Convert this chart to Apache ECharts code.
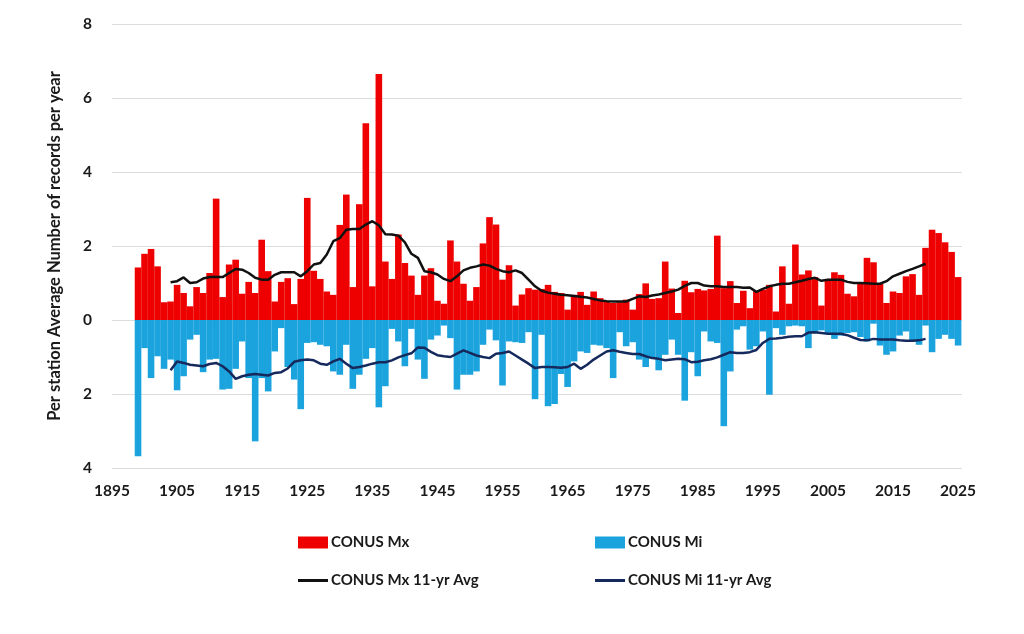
<!DOCTYPE html>
<html lang="en">
<head>
  <meta charset="UTF-8" />
  <title>CONUS records per year</title>
  <script src="https://cdn.jsdelivr.net/npm/echarts@6.0.0/dist/echarts.min.js"></script>
  <style>
    html, body { margin: 0; padding: 0; background: #ffffff; }
  </style>
</head>
<body>
  <div id="main" style="width: 1024px; height: 634px;"></div>
  <script type="text/javascript">
    // colours
    let mxColor = "#ee0000";
    let miColor = "#1ba3dd";
    let mxAvgColor = "#111111";
    let miAvgColor = "#15295c";
    let textColor = "#1a1a1a";
    let fontName = "Lato";

    // first year of the bars and of the 11-yr averages
    const firstYear = 1899;
    const avgFirstYear = 1904;

    // CONUS Mx, per station records per year, 1899 .. 2025
    const mx = [
      1.42,
      1.79, 1.92, 1.45, 0.48, 0.50, 0.95, 0.73, 0.37, 0.89, 0.73,
      1.27, 3.28, 0.62, 1.50, 1.63, 0.71, 1.03, 0.73, 2.17, 1.32,
      0.50, 1.03, 1.13, 0.43, 1.11, 3.30, 1.33, 1.11, 0.77, 0.68,
      2.57, 3.39, 0.89, 3.13, 5.32, 0.91, 6.65, 1.58, 1.11, 2.31,
      1.54, 1.20, 0.68, 1.20, 1.40, 0.52, 0.44, 2.15, 1.58, 0.98,
      0.52, 0.89, 2.07, 2.78, 2.58, 1.09, 1.48, 0.39, 0.69, 0.86,
      0.82, 0.84, 0.95, 0.76, 0.73, 0.28, 0.68, 0.76, 0.41, 0.77,
      0.59, 0.50, 0.46, 0.48, 0.55, 0.28, 0.70, 0.99, 0.57, 0.59,
      1.58, 0.85, 0.19, 1.06, 0.75, 0.84, 0.80, 0.84, 2.28, 0.86,
      1.05, 0.46, 0.79, 0.32, 0.78, 0.82, 0.95, 0.23, 1.45, 0.44,
      2.04, 1.23, 1.34, 1.16, 0.39, 1.11, 1.29, 1.22, 0.71, 0.64,
      1.02, 1.68, 1.56, 0.98, 0.46, 0.77, 0.73, 1.18, 1.24, 0.68,
      1.95, 2.44, 2.35, 2.10, 1.84, 1.16
    ];

    // CONUS Mi, per station records per year (drawn below zero), 1899 .. 2025
    const mi = [
      3.68,
      0.76, 1.57, 0.98, 1.32, 1.07, 1.90, 1.52, 0.53, 0.40, 1.41,
      1.07, 1.05, 1.88, 1.86, 1.32, 0.58, 1.57, 3.28, 1.57, 1.93,
      0.85, 0.22, 1.27, 1.61, 2.41, 0.62, 0.60, 0.67, 0.71, 1.39,
      1.48, 0.67, 1.86, 1.48, 1.05, 0.76, 2.36, 1.79, 0.24, 0.58,
      1.25, 0.24, 1.07, 1.59, 0.53, 0.42, 0.15, 0.49, 1.88, 1.48,
      1.48, 1.39, 0.67, 0.26, 0.55, 1.77, 0.58, 0.60, 0.62, 0.33,
      2.14, 0.40, 2.33, 2.27, 1.46, 1.81, 1.12, 0.85, 0.89, 0.67,
      0.69, 0.76, 1.57, 0.33, 0.71, 0.60, 1.07, 1.27, 1.03, 1.36,
      0.94, 0.53, 0.94, 2.18, 0.87, 1.52, 0.31, 0.58, 0.62, 2.87,
      1.39, 0.26, 0.17, 0.80, 0.71, 0.31, 2.02, 0.22, 0.40, 0.17,
      0.15, 0.17, 0.76, 0.35, 0.28, 0.35, 0.51, 0.42, 0.35, 0.33,
      0.46, 0.58, 0.10, 0.69, 0.94, 0.85, 0.42, 0.31, 0.58, 0.67,
      0.15, 0.87, 0.51, 0.40, 0.51, 0.69
    ];

    // 11-yr averages, 1904 .. 2020
    const mxAvg = [
      1.02, 1.05, 1.15, 1.00, 1.02, 1.12,
      1.16, 1.16, 1.16, 1.27, 1.38, 1.36, 1.27, 1.14, 1.09, 1.09,
      1.22, 1.29, 1.29, 1.29, 1.18, 1.32, 1.50, 1.54, 1.77, 2.13,
      2.21, 2.44, 2.46, 2.46, 2.58, 2.67, 2.56, 2.32, 2.31, 2.28,
      2.10, 1.79, 1.68, 1.32, 1.29, 1.23, 1.11, 1.05, 1.18, 1.34,
      1.41, 1.45, 1.50, 1.47, 1.38, 1.32, 1.29, 1.34, 1.27, 1.09,
      0.91, 0.79, 0.74, 0.71, 0.68, 0.67, 0.65, 0.63, 0.61, 0.57,
      0.53, 0.51, 0.50, 0.50, 0.50, 0.57, 0.64, 0.62, 0.66, 0.69,
      0.73, 0.77, 0.82, 0.92, 1.00, 1.00, 0.93, 0.91, 0.91, 0.89,
      0.89, 0.89, 0.87, 0.88, 0.76, 0.84, 0.91, 0.95, 0.98, 0.98,
      1.02, 1.06, 1.11, 1.14, 1.06, 1.09, 1.09, 1.09, 1.03, 1.00,
      1.00, 0.99, 0.98, 0.98, 1.05, 1.18, 1.25, 1.32, 1.38, 1.45,
      1.52
    ];
    const miAvg = [
      1.36, 1.12, 1.16, 1.21, 1.23, 1.25,
      1.19, 1.16, 1.25, 1.39, 1.59, 1.52, 1.48, 1.46, 1.48, 1.50,
      1.43, 1.41, 1.31, 1.13, 1.09, 1.07, 1.09, 1.18, 1.21, 1.12,
      1.05, 1.18, 1.30, 1.27, 1.23, 1.18, 1.14, 1.14, 1.09, 1.01,
      0.95, 0.90, 0.74, 0.75, 0.86, 0.95, 0.98, 1.00, 0.91, 0.82,
      0.89, 0.96, 1.00, 1.03, 0.91, 0.89, 0.85, 0.96, 1.07, 1.18,
      1.30, 1.27, 1.27, 1.28, 1.29, 1.27, 1.18, 1.32, 1.21, 1.07,
      0.96, 0.85, 0.82, 0.86, 0.89, 0.92, 0.92, 0.98, 1.03, 1.05,
      1.09, 1.07, 1.05, 1.06, 1.14, 1.13, 1.09, 1.06, 1.01, 0.94,
      0.87, 0.89, 0.89, 0.87, 0.81, 0.62, 0.51, 0.50, 0.48, 0.45,
      0.44, 0.44, 0.34, 0.33, 0.35, 0.37, 0.37, 0.37, 0.41, 0.48,
      0.54, 0.55, 0.51, 0.53, 0.53, 0.53, 0.55, 0.56, 0.56, 0.55,
      0.51
    ];

    // series names
    const names = ["CONUS Mx", "CONUS Mi", "CONUS Mx 11-yr Avg", "CONUS Mi 11-yr Avg"];

    // [year, value] pairs; Mi goes below zero
    function pairs(start, values, sign) {
      return values.map(function (v, i) { return [start + i, sign * v]; });
    }

    var myChart = echarts.init(document.getElementById('main'));

    var labelFont = { color: textColor, fontFamily: fontName, fontWeight: 'bold', fontSize: 15.5 };
    var legendFont = { color: textColor, fontFamily: fontName, fontWeight: 'bold', fontSize: 15, padding: [0, 0, 0, -2] };

    // one legend per item so the two columns line up like the original
    function legendItem(name, left, top, h) {
      return {
        data: [name], left: left, top: top, padding: 0,
        icon: 'rect', itemWidth: 30, itemHeight: h, itemGap: 0,
        textStyle: legendFont
      };
    }

    myChart.setOption({
      animation: false,
      backgroundColor: '#ffffff',
      grid: { left: 112, right: 62, top: 24, bottom: 166 },
      xAxis: {
        type: 'value',
        min: 1895,
        max: 2025.6,
        interval: 10,
        axisLine: { show: false },
        axisTick: { show: false },
        splitLine: { show: false },
        axisLabel: Object.assign({
          margin: 15,
          // only the decade labels, not the odd max
          formatter: function (v) { return (v - 1895) % 10 === 0 ? String(v) : ''; }
        }, labelFont)
      },
      yAxis: {
        type: 'value',
        min: -4,
        max: 8,
        interval: 2,
        name: 'Per station Average Number of records per year',
        nameLocation: 'middle',
        nameGap: 49,
        nameTextStyle: Object.assign({}, labelFont, { fontSize: 16.5 }),
        axisLine: { show: false },
        axisTick: { show: false },
        splitLine: { lineStyle: { color: '#dcdcdc', width: 1 } },
        axisLabel: Object.assign({
          margin: 20,
          formatter: function (v) { return String(Math.abs(v)); }
        }, labelFont)
      },
      legend: [
        legendItem(names[0], 298, 535, 12),
        legendItem(names[1], 595, 535, 12),
        legendItem(names[2], 298, 573, 3),
        legendItem(names[3], 595, 573, 3)
      ],
      series: [
        {
          name: names[0],
          type: 'bar',
          data: pairs(firstYear, mx, 1),
          barWidth: 6.6,
          barGap: '-100%',
          itemStyle: { color: mxColor }
        },
        {
          name: names[1],
          type: 'bar',
          data: pairs(firstYear, mi, -1),
          barWidth: 6.6,
          barGap: '-100%',
          itemStyle: { color: miColor }
        },
        {
          name: names[2],
          type: 'line',
          data: pairs(avgFirstYear, mxAvg, 1),
          symbol: 'none',
          z: 5,
          itemStyle: { color: mxAvgColor },
          lineStyle: { color: mxAvgColor, width: 2.5 }
        },
        {
          name: names[3],
          type: 'line',
          data: pairs(avgFirstYear, miAvg, -1),
          symbol: 'none',
          z: 5,
          itemStyle: { color: miAvgColor },
          lineStyle: { color: miAvgColor, width: 2.5 }
        }
      ]
    });
  </script>
</body>
</html>
